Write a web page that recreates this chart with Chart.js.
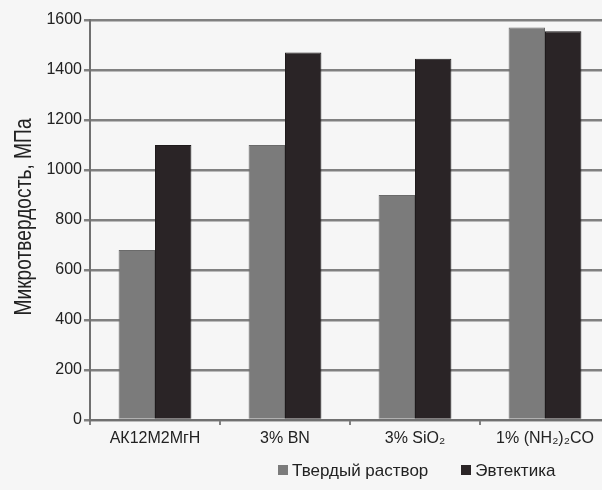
<!DOCTYPE html>
<html>
<head>
<meta charset="utf-8">
<script src="https://cdn.jsdelivr.net/npm/chart.js@4"></script>
<style>
  html, body { margin: 0; padding: 0; background: #f6f6f6; overflow: hidden; }
  body { width: 602px; height: 490px; position: relative; }
  #wrap { position: absolute; left: 0; top: 0; width: 612px; height: 490px; }
  .legend { position: absolute; top: 461px; left: 278px; font-family: "Liberation Sans", Arial, sans-serif;
            font-size: 17px; color: #222; white-space: nowrap; }
  .legend span.sw { display: inline-block; width: 10px; height: 10px; margin-right: 4px; vertical-align: 1px; }
  .legend span.item { margin-right: 33px; }
</style>
</head>
<body>
<div id="wrap"><canvas id="c" width="612" height="490"></canvas></div>
<div class="legend">
  <span class="item"><span class="sw" style="background:#7b7b7b"></span>Твердый раствор</span><span><span class="sw" style="background:#2a2426"></span>Эвтектика</span>
</div>
<script>
// Microhardness of the solid solution and eutectic phases, MPa
const categories = ["АК12М2МгН", "3% BN", "3% SiO₂", "1% (NH₂)₂CO"];
const solidSolution = [680, 1100, 900, 1570];
const eutectic = [1100, 1470, 1445, 1555];
const yTicks = [0, 200, 400, 600, 800, 1000, 1200, 1400, 1600];
const yTitle = 'Микротвердость, МПа';

const fontFamily = '"Liberation Sans", Arial, sans-serif';

// Vertical axis title in a condensed face (horizontally compressed text)
const condensedTitle = {
  id: 'condensedTitle',
  afterDraw(chart) {
    const { ctx, chartArea } = chart;
    ctx.save();
    ctx.translate(24, (chartArea.top + chartArea.bottom) / 2 - 3);
    ctx.rotate(-Math.PI / 2);
    ctx.scale(0.8, 1);
    ctx.font = '24px ' + fontFamily;
    ctx.fillStyle = '#222';
    ctx.textAlign = 'center';
    ctx.textBaseline = 'middle';
    ctx.fillText(yTitle, 0, 0);
    ctx.restore();
  }
};

new Chart(document.getElementById('c'), {
  type: 'bar',
  data: {
    labels: categories,
    datasets: [
      { label: 'Твердый раствор', data: solidSolution, backgroundColor: '#7b7b7b', borderColor: '#6a6a6a', borderWidth: 1 },
      { label: 'Эвтектика', data: eutectic, backgroundColor: '#2a2426', borderColor: '#1e1a1b', borderWidth: 1 }
    ]
  },
  plugins: [condensedTitle],
  options: {
    responsive: false,
    animation: false,
    devicePixelRatio: 1,
    layout: { padding: { top: 20, left: 0, right: 2, bottom: 0 } },
    datasets: { bar: { categoryPercentage: 0.56, barPercentage: 1.0 } },
    plugins: { legend: { display: false }, tooltip: { enabled: false } },
    scales: {
      x: {
        grid: { display: true, drawOnChartArea: false, offset: true, color: '#808080', lineWidth: 2, tickLength: 5 },
        border: { color: '#707070', width: 2 },
        ticks: { color: '#222', font: { family: fontFamily, size: 16 }, padding: 4, maxRotation: 0 },
        afterFit: (s) => { s.height = 70; }
      },
      y: {
        min: 0, max: 1600,
        afterBuildTicks: (s) => { s.ticks = yTicks.map(v => ({ value: v })); },
        grid: { color: '#808080', lineWidth: 2.5, tickLength: 6 },
        border: { color: '#707070', width: 2 },
        ticks: { color: '#222', font: { family: fontFamily, size: 16 }, padding: 2, callback: (v) => String(v) },
        title: { display: false },
        afterFit: (s) => { s.width = 90; }
      }
    }
  }
});
</script>
</body>
</html>
